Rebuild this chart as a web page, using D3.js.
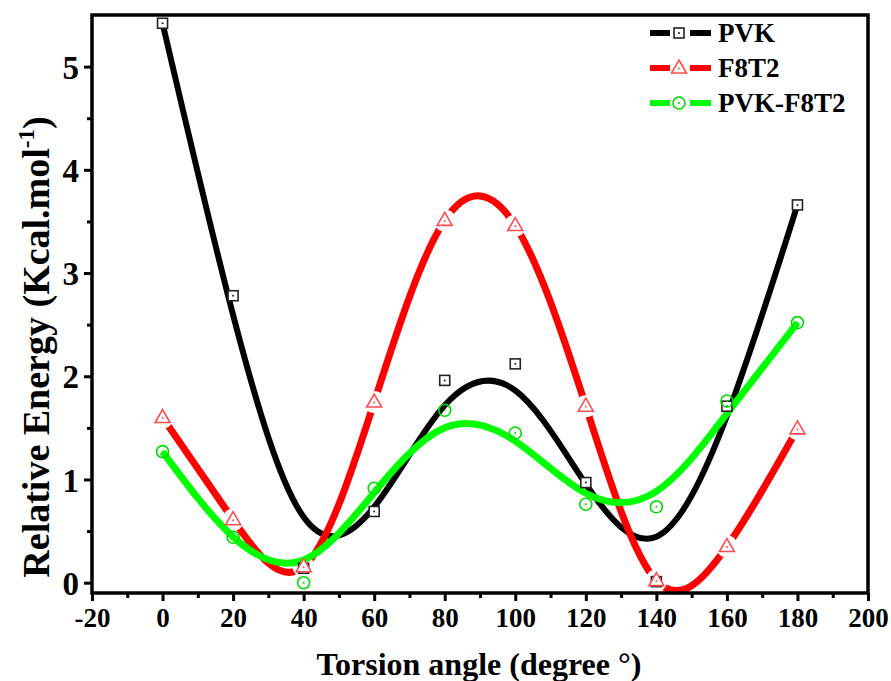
<!DOCTYPE html>
<html><head><meta charset="utf-8">
<script src="https://cdn.jsdelivr.net/npm/d3@7"></script>
<style>body{margin:0;background:#fff}svg{display:block}text{font-family:"Liberation Serif","Times New Roman",serif;font-weight:bold}</style>
</head><body><svg id="c" width="891" height="681"></svg>
<script>
const angles = [0,20,40,60,80,100,120,140,160,180];
const pvk = [5.42,2.78,0.14,0.69,1.96,2.12,0.97,0.01,1.71,3.66];
const f8t2 = [1.60,0.61,0.155,1.75,3.51,3.46,1.71,0.02,0.35,1.49];
const pvkF8t2 = [1.27,0.44,0.0,0.915,1.67,1.45,0.76,0.735,1.76,2.52];
const seriesNames = ["PVK","F8T2","PVK-F8T2"];
const xTicks = [-20,0,20,40,60,80,100,120,140,160,180,200];
const yTicks = [0,1,2,3,4,5];

const svg = d3.select("#c");
const L=92,R=868,T=15,B=593;
const x = d3.scaleLinear().domain([-20,200]).range([L,R]);
const y = d3.scaleLinear().domain([-0.1,5.5]).range([B,T]);

function solve(A,b){ // gaussian elimination
  const n=b.length, M=A.map((r,i)=>[...r,b[i]]);
  for(let c=0;c<n;c++){let p=c;for(let r=c+1;r<n;r++)if(Math.abs(M[r][c])>Math.abs(M[p][c]))p=r;[M[c],M[p]]=[M[p],M[c]];
    for(let r=0;r<n;r++){if(r===c)continue;const f=M[r][c]/M[c][c];for(let k=c;k<=n;k++)M[r][k]-=f*M[c][k];}}
  return M.map((r,i)=>r[n]/r[i]);
}
// cubic smoothing spline (Reinsch), equal spacing; returns smoothed knot values
function smooth(ys, lambda){
  const n=ys.length; if(!lambda) return ys.slice();
  const Q=[...Array(n)].map(()=>new Array(n-2).fill(0));
  const Rm=[...Array(n-2)].map(()=>new Array(n-2).fill(0));
  for(let j=0;j<n-2;j++){Q[j][j]=1;Q[j+1][j]=-2;Q[j+2][j]=1;Rm[j][j]=2/3;if(j>0)Rm[j][j-1]=Rm[j-1][j]=1/6;}
  const X=[...Array(n-2)].map(()=>new Array(n).fill(0));
  for(let c=0;c<n;c++){const col=solve(Rm,Q[c]);for(let r=0;r<n-2;r++)X[r][c]=col[r];}
  const A=[...Array(n)].map((_,i)=>[...Array(n)].map((_,j)=>{let s=0;for(let k=0;k<n-2;k++)s+=Q[i][k]*X[k][j];return lambda*s+(i===j?(i===0||i===n-1?1e4:1):0);}));
  const b=ys.map((v,i)=>(i===0||i===n-1?1e4:1)*v);
  return solve(A,b);
}
const series=[
 {name:seriesNames[0],vals:pvk,color:"#000000",mk:"#222",w:6,lam:0.13,shape:"square",gap:0},
 {name:seriesNames[1],vals:f8t2,color:"#ff0000",mk:"#ff4d4d",w:7,lam:0,shape:"tri",gap:11},
 {name:seriesNames[2],vals:pvkF8t2,color:"#00ff00",mk:"#00dd00",w:7,lam:0.12,shape:"circ",gap:0}
];
const defs=svg.append("defs");
const plot=svg.append("g");
const line=d3.line().x(d=>x(d[0])).y(d=>y(d[1])).curve(d3.curveNatural);
series.forEach((s,si)=>{
  const g=smooth(s.vals,s.lam);
  const pts=angles.map((a,i)=>[a,g[i]]);
  let maskId=null;
  if(s.gap){
    maskId="m"+si;
    const m=defs.append("mask").attr("id",maskId).attr("maskUnits","userSpaceOnUse").attr("x",0).attr("y",0).attr("width",891).attr("height",681);
    m.append("rect").attr("width",891).attr("height",681).attr("fill","#fff");
    angles.forEach((a,i)=>m.append("circle").attr("cx",x(a)).attr("cy",y(s.vals[i])).attr("r",s.gap).attr("fill","#000"));
  }
  const p=plot.append("path").attr("d",line(pts)).attr("fill","none").attr("stroke",s.color).attr("stroke-width",s.w);
  if(maskId)p.attr("mask","url(#"+maskId+")");
});
function marker(g,s,cx,cy){
  if(s.shape==="square"){g.append("rect").attr("x",cx-5).attr("y",cy-5).attr("width",10).attr("height",10).attr("fill","#fff").attr("stroke",s.mk).attr("stroke-width",1.6);}
  else if(s.shape==="tri"){g.append("path").attr("d",`M${cx},${cy-8}L${cx+7.5},${cy+5}L${cx-7.5},${cy+5}Z`).attr("fill","#fff").attr("stroke",s.mk).attr("stroke-width",1.6);}
  else {g.append("circle").attr("cx",cx).attr("cy",cy).attr("r",6).attr("fill","none").attr("stroke",s.mk).attr("stroke-width",1.6);}
  g.append("circle").attr("cx",cx).attr("cy",s.shape==="tri"?cy+0.5:cy).attr("r",1).attr("fill",s.mk);
}
series.forEach(s=>{
  const g=plot.append("g");
  angles.forEach((a,i)=>marker(g,s,x(a),y(s.vals[i])));
});

// axes
const xa=svg.append("g").attr("transform",`translate(0,${B})`)
  .call(d3.axisBottom(x).tickValues(xTicks).tickSize(8).tickPadding(6).tickFormat(d=>String(d)));
const xm=svg.append("g").attr("transform",`translate(0,${B})`)
  .call(d3.axisBottom(x).tickValues(d3.range(-10,200,20)).tickSize(5).tickFormat(""));
const ya=svg.append("g").attr("transform",`translate(${L},0)`)
  .call(d3.axisLeft(y).tickValues(yTicks).tickSize(8).tickPadding(5).tickFormat(d=>String(d)));
const ym=svg.append("g").attr("transform",`translate(${L},0)`)
  .call(d3.axisLeft(y).tickValues(d3.range(0.5,5.5,1)).tickSize(5).tickFormat(""));
[xa,xm,ya,ym].forEach(g=>{g.select(".domain").remove();g.selectAll("line").attr("stroke","#000").attr("stroke-width",3);});
xa.selectAll("text").attr("font-size",27).attr("fill","#000").attr("dy","0.75em");
ya.selectAll("text").attr("font-size",33).attr("fill","#000").attr("dy","0.35em");
svg.append("rect").attr("x",L).attr("y",T).attr("width",R-L).attr("height",B-T).attr("fill","none").attr("stroke","#000").attr("stroke-width",3.5);

svg.append("text").attr("x",(315+643)/2).attr("y",675).attr("text-anchor","middle").attr("font-size",32).text("Torsion angle (degree °)");
const yt=svg.append("text").attr("transform","translate(49,347) rotate(-90)").attr("text-anchor","middle").attr("font-size",38);
yt.append("tspan").text("Relative Energy (Kcal.mol");
yt.append("tspan").attr("font-size",23).attr("dy",-15).text("-1");
yt.append("tspan").attr("dy",15).text(")");

// legend
const lg=svg.append("g");
series.forEach((s,i)=>{
  const cy=33+i*35;
  lg.append("line").attr("x1",650).attr("x2",670).attr("y1",cy).attr("y2",cy).attr("stroke",s.color).attr("stroke-width",6);
  lg.append("line").attr("x1",690).attr("x2",711).attr("y1",cy).attr("y2",cy).attr("stroke",s.color).attr("stroke-width",6);
  marker(lg,s,679,cy);
  lg.append("text").attr("x",718).attr("y",cy+9).attr("font-size",27).text(s.name);
});
</script></body></html>
